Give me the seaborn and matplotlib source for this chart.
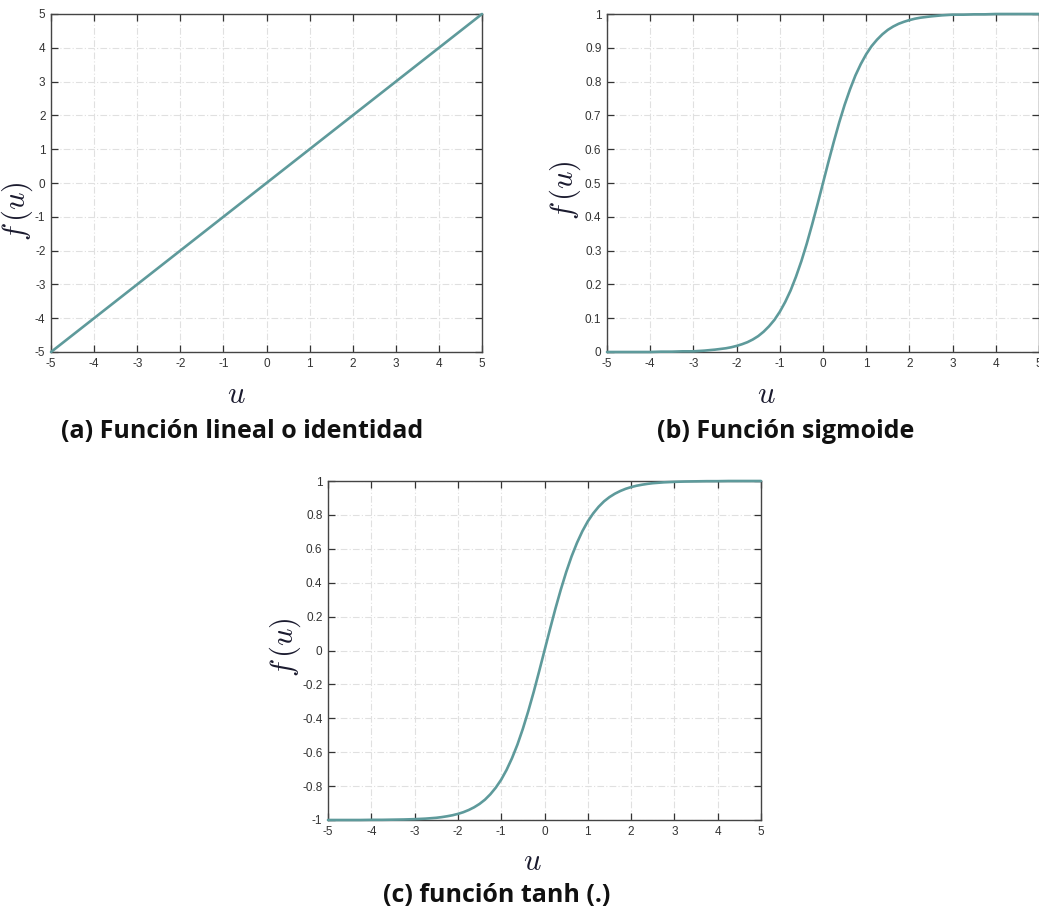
import numpy as np
import pandas as pd
import matplotlib
matplotlib.use("Agg")
import matplotlib.pyplot as plt
import seaborn as sns

# ---- data ----
u_lin = [-5, -4, -3, -2, -1, 0, 1, 2, 3, 4, 5]
f_lin = [-5, -4, -3, -2, -1, 0, 1, 2, 3, 4, 5]

u_curve = [-5.0, -4.75, -4.5, -4.25, -4.0, -3.75, -3.5, -3.25, -3.0, -2.75,
           -2.5, -2.375, -2.25, -2.125, -2.0, -1.875, -1.75, -1.625, -1.5, -1.375,
           -1.25, -1.125, -1.0, -0.875, -0.75, -0.625, -0.5, -0.375, -0.25, -0.125,
           0.0, 0.125, 0.25, 0.375, 0.5, 0.625, 0.75, 0.875, 1.0, 1.125,
           1.25, 1.375, 1.5, 1.625, 1.75, 1.875, 2.0, 2.125, 2.25, 2.375,
           2.5, 2.75, 3.0, 3.25, 3.5, 3.75, 4.0, 4.25, 4.5, 4.75, 5.0]
f_sig = [0.000, 0.000, 0.000, 0.000, 0.000, 0.001, 0.001, 0.002, 0.002, 0.004,
         0.007, 0.009, 0.011, 0.014, 0.018, 0.023, 0.029, 0.037, 0.047, 0.060,
         0.076, 0.095, 0.119, 0.148, 0.182, 0.223, 0.269, 0.321, 0.378, 0.438,
         0.500, 0.562, 0.622, 0.679, 0.731, 0.777, 0.818, 0.852, 0.881, 0.905,
         0.924, 0.940, 0.953, 0.963, 0.971, 0.977, 0.982, 0.986, 0.989, 0.991,
         0.993, 0.996, 0.998, 0.998, 0.999, 0.999, 1.000, 1.000, 1.000, 1.000, 1.000]
f_tanh = [-1.000, -1.000, -1.000, -1.000, -0.999, -0.999, -0.998, -0.997, -0.995, -0.992,
          -0.987, -0.983, -0.978, -0.972, -0.964, -0.954, -0.941, -0.925, -0.905, -0.880,
          -0.848, -0.809, -0.762, -0.704, -0.635, -0.555, -0.462, -0.358, -0.245, -0.124,
          0.000, 0.124, 0.245, 0.358, 0.462, 0.555, 0.635, 0.704, 0.762, 0.809,
          0.848, 0.880, 0.905, 0.925, 0.941, 0.954, 0.964, 0.972, 0.978, 0.983,
          0.987, 0.992, 0.995, 0.997, 0.998, 0.999, 0.999, 1.000, 1.000, 1.000, 1.000]

x_ticks = [-5, -4, -3, -2, -1, 0, 1, 2, 3, 4, 5]
y_ticks_a = [-5, -4, -3, -2, -1, 0, 1, 2, 3, 4, 5]
y_ticks_b = [0, 0.1, 0.2, 0.3, 0.4, 0.5, 0.6, 0.7, 0.8, 0.9, 1]
y_ticks_c = [-1, -0.8, -0.6, -0.4, -0.2, 0, 0.2, 0.4, 0.6, 0.8, 1]

captions = ["(a) Función lineal o identidad", "(b) Función sigmoide", "(c) función tanh (.)"]

# ---- style ----
sns.set_style("white")
plt.rcParams["font.family"] = ["Liberation Sans", "DejaVu Sans"]
plt.rcParams["mathtext.fontset"] = "cm"

LINE = "#5e9a9b"
W, H = 1039, 915
fig = plt.figure(figsize=(W / 100, H / 100), dpi=100)

def px_axes(l, t, r, b):
    return fig.add_axes([l / W, 1 - b / H, (r - l) / W, (b - t) / H])

ax_a = px_axes(51, 14, 482, 352)
ax_b = px_axes(607, 14, 1039, 352)
ax_c = px_axes(328, 481, 761, 820)

def fmt(v):
    s = ("%.1f" % v).rstrip("0").rstrip(".")
    return "0" if s in ("-0", "") else s

def style(ax, yt, ylim, ylab_xy, xlab_xy):
    ax.set_xlim(-5, 5)
    ax.set_ylim(*ylim)
    ax.set_xticks(x_ticks)
    ax.set_xticklabels([fmt(v) for v in x_ticks])
    ax.set_yticks(yt)
    ax.set_yticklabels([fmt(v) for v in yt])
    ax.grid(True, color="#e0e0e0", linestyle=(0, (6, 2, 1, 2)), linewidth=0.8)
    ax.set_axisbelow(True)
    ax.tick_params(direction="in", length=5, width=0.9, color="#333333",
                   top=True, right=True, bottom=True, left=True,
                   labelsize=8.5, labelcolor="#333333", pad=4)
    for s in ax.spines.values():
        s.set_color("#444444")
        s.set_linewidth(1.0)
        s.set_visible(True)
    ax.set_xlabel("$u$", fontsize=22, color="#1a1a2e")
    ax.set_ylabel(r"$f\,(u)$", fontsize=22, color="#1a1a2e")
    ax.xaxis.set_label_coords(*xlab_xy)
    ax.xaxis.label.set_va("center")
    ax.yaxis.set_label_coords(*ylab_xy)
    ax.yaxis.label.set_va("center")
    ax.yaxis.label.set_ha("center")

df_a = pd.DataFrame({"u": u_lin, "f": f_lin})
df_b = pd.DataFrame({"u": u_curve, "f": f_sig})
df_c = pd.DataFrame({"u": u_curve, "f": f_tanh})

for ax, df in [(ax_a, df_a), (ax_b, df_b), (ax_c, df_c)]:
    sns.lineplot(data=df, x="u", y="f", ax=ax, color=LINE, linewidth=1.9,
                 clip_on=False, zorder=3)

style(ax_a, y_ticks_a, (-5, 5), (-0.078, 0.417), (0.429, -0.127))
style(ax_b, y_ticks_b, (0, 1), (-0.097, 0.479), (0.37, -0.127))
style(ax_c, y_ticks_c, (-1, 1), (-0.099, 0.51), (0.471, -0.124))

cap_kw = dict(ha="center", va="center", fontsize=18, fontweight="bold",
              family=["Open Sans", "DejaVu Sans"], color="#111111")
fig.text(242 / W, 1 - 432 / H, captions[0], **cap_kw)
fig.text(786 / W, 1 - 432 / H, captions[1], **cap_kw)
fig.text(497 / W, 1 - 895 / H, captions[2], **cap_kw)

fig.savefig("out.png", dpi=100)
